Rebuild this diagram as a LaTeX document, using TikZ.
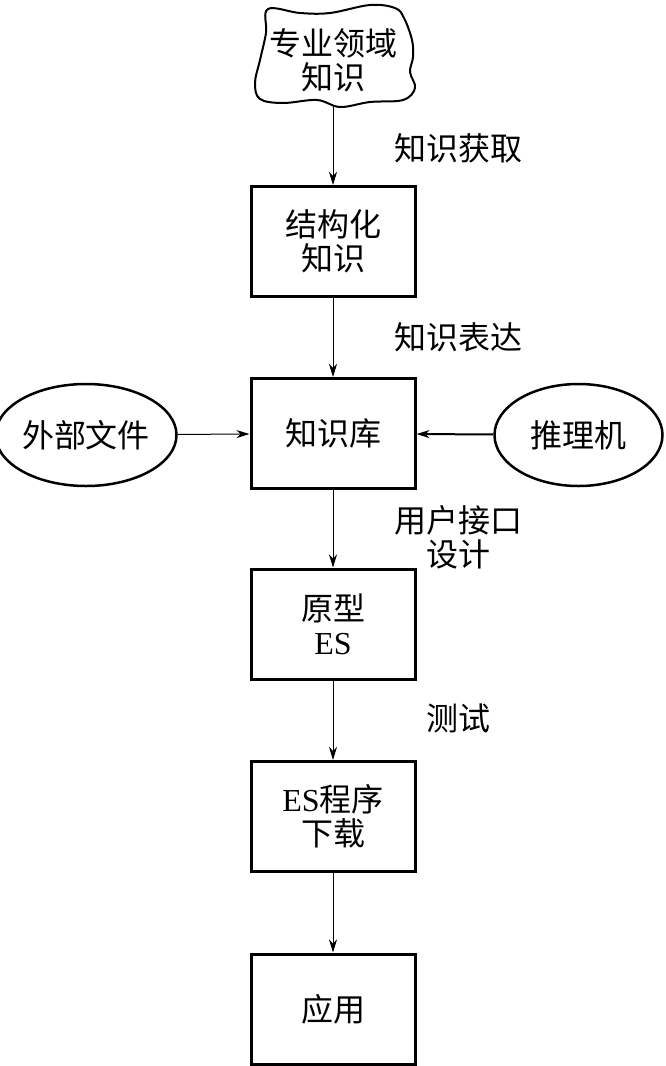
\documentclass[tikz,border=0pt]{standalone}
\usepackage{fontspec}
\setmainfont{Liberation Serif}
\newfontfamily\cjk{Noto Sans CJK SC}
\usetikzlibrary{arrows.meta,shapes.geometric}
\begin{document}
\begin{tikzpicture}[x=1pt,y=-1pt,
  txt/.style={font=\cjk\fontsize{32}{34}\selectfont, align=center, inner sep=0pt},
  box/.style={txt, draw, line width=3pt, minimum width=164pt, minimum height=110pt},
  oval/.style={txt, draw, ellipse, line width=2.5pt, minimum width=168pt, minimum height=102pt},
  arr/.style={-{Stealth[length=13pt,width=8pt,inset=4pt]}, line width=1pt},
  lbl/.style={txt}]
\useasboundingbox (0,0) rectangle (666,1066);
% cloud
\draw[line width=2pt] plot[smooth cycle, tension=0.6] coordinates {
  (268,9) (300,13) (330,13) (370,5) (395,8) (404,18) (412,40) (413,57)
  (410,72) (415,88) (403,100) (370,102) (340,107) (317,100) (283,103)
  (260,99) (255,83) (260,60) (266,33)};
\node[txt] (cloud) at (333,60) {专业领域\\知识};
\coordinate (cb) at (333,105);
% boxes
\node[box] (b1) at (333,241.5) {结构化\\知识};
\node[box] (kb) at (333,433.5) {知识库};
\node[box] (b3) at (333,624) {原型\\{\rmfamily ES}};
\node[box] (b4) at (333,816.5) {{\rmfamily ES}程序\\下载};
\node[box] (b5) at (333,1009) {应用};
% ovals
\node[oval] (ext) at (86,435) {外部文件};
\node[oval] (inf) at (578.5,435) {推理机};
% labels
\node[lbl] (l1) at (458,148) {知识获取};
\node[lbl] (l2) at (458,337) {知识表达};
\node[lbl] (l3) at (458,537) {用户接口\\设计};
\node[lbl] (l4) at (458,718) {测试};
% arrows
\draw[arr] (cb) -- (b1);
\draw[arr] (b1) -- (kb);
\draw[arr] (kb) -- (b3);
\draw[arr] (b3) -- (b4);
\draw[arr] (b4) -- (b5);
\draw[arr] (ext) -- (kb);
\draw[arr, line width=2pt] (inf) -- (kb);
\end{tikzpicture}
\end{document}
